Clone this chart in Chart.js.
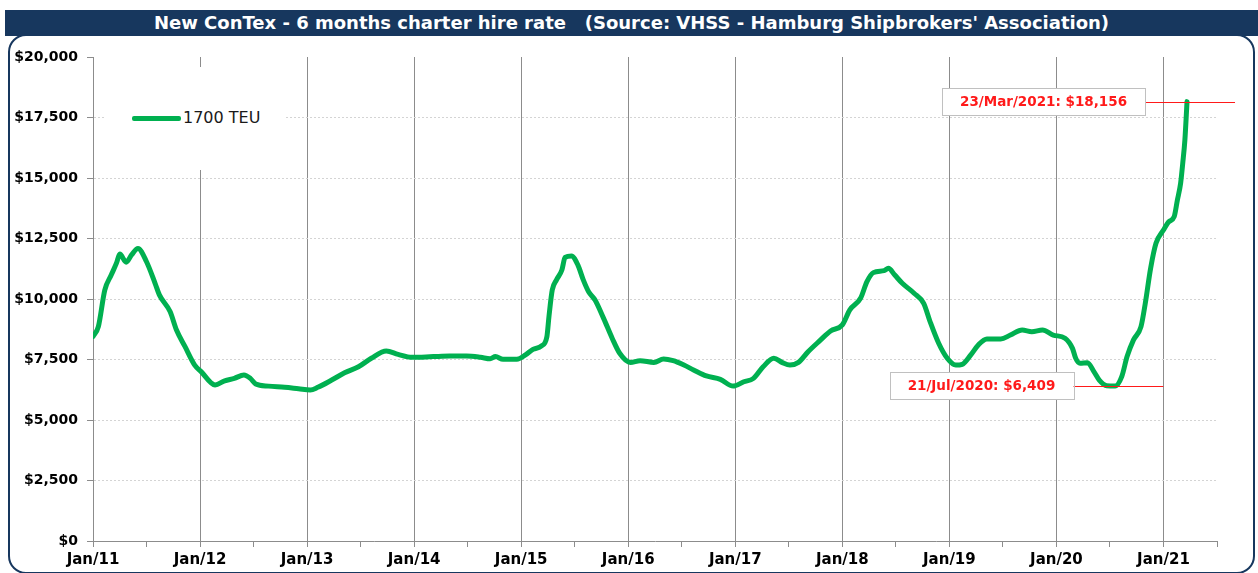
<!DOCTYPE html>
<html>
<head>
<meta charset="utf-8">
<script src="https://cdn.jsdelivr.net/npm/chart.js@4/dist/chart.umd.min.js"></script>
<style>
  html, body { margin: 0; padding: 0; background: #fff; }
  #page { position: relative; width: 1258px; height: 573px; overflow: hidden; background: #fff; }
  #frame {
    position: absolute; left: 8px; top: 34px; width: 1247px; height: 540px;
    border: 2px solid #17375e; border-radius: 18px; box-sizing: border-box;
  }
  #titlebar {
    position: absolute; left: 5px; top: 10px; width: 1253px; height: 26px;
    background: #17375e; color: #fff; text-align: center;
    font: bold 18px 'DejaVu Sans', sans-serif; line-height: 26px; white-space: pre;
  }
  #chart { position: absolute; left: 0; top: 0; }
  #legend { position: absolute; left: 104px; top: 67px; width: 181px; height: 103px; background: #fff; }
  #legend .swatch { position: absolute; left: 28px; top: 49px; width: 49px; height: 5px; background: #00b050; border-radius: 2px; }
  #legend .name { position: absolute; left: 79px; top: 41px; font: 16px 'DejaVu Sans', sans-serif; line-height: 20px; color: #1a1a1a; }
</style>
</head>
<body>
<div id="page">
  <div id="frame"></div>
  <canvas id="chart" width="1258" height="573"></canvas>
  <div id="titlebar">New ConTex - 6 months charter hire rate   (Source: VHSS - Hamburg Shipbrokers' Association)</div>
  <div id="legend"><span class="swatch"></span><span class="name">1700 TEU</span></div>
</div>
<script>
// ── data (dates as decimal years) ─────────────────────────
const SERIES_NAME = '1700 TEU';

const dates = [
  2011.00, 2011.05, 2011.11, 2011.17, 2011.22, 2011.25, 2011.31, 2011.36, 2011.42, 2011.50,
  2011.58, 2011.62, 2011.72, 2011.78, 2011.86, 2011.95, 2012.01, 2012.14, 2012.23, 2012.32,
  2012.41, 2012.47, 2012.52, 2012.64, 2012.79, 2012.92, 2013.03, 2013.10, 2013.23, 2013.35,
  2013.48, 2013.60, 2013.74, 2013.85, 2013.98, 2014.18, 2014.33, 2014.49, 2014.62, 2014.71,
  2014.76, 2014.83, 2014.96, 2015.04, 2015.11, 2015.19, 2015.24, 2015.26, 2015.29, 2015.33,
  2015.38, 2015.41, 2015.47, 2015.53, 2015.58, 2015.63, 2015.69, 2015.77, 2015.85, 2015.92,
  2016.02, 2016.11, 2016.24, 2016.33, 2016.42, 2016.52, 2016.61, 2016.73, 2016.86, 2016.98,
  2017.08, 2017.17, 2017.26, 2017.36, 2017.44, 2017.51, 2017.59, 2017.68, 2017.79, 2017.89,
  2018.00, 2018.07, 2018.17, 2018.23, 2018.29, 2018.39, 2018.43, 2018.49, 2018.56, 2018.67,
  2018.76, 2018.82, 2018.90, 2018.98, 2019.06, 2019.12, 2019.20, 2019.27, 2019.35, 2019.48,
  2019.57, 2019.68, 2019.77, 2019.87, 2019.97, 2020.08, 2020.15, 2020.18, 2020.22, 2020.29,
  2020.35, 2020.40, 2020.47, 2020.55, 2020.61, 2020.66, 2020.72, 2020.79, 2020.83, 2020.88,
  2020.93, 2021.00, 2021.05, 2021.10, 2021.13, 2021.16, 2021.18, 2021.20, 2021.22,
];

const rates = [
  8450, 8860, 10370, 10990, 11490, 11860, 11520, 11820, 12090, 11540,
  10650, 10170, 9480, 8720, 8030, 7270, 7000, 6450, 6620, 6720,
  6860, 6720, 6490, 6400, 6350, 6290, 6240, 6350, 6650, 6950,
  7200, 7550, 7850, 7710, 7590, 7620, 7640, 7640, 7590, 7530,
  7620, 7510, 7510, 7690, 7920, 8060, 8440, 9300, 10370, 10790,
  11200, 11720, 11780, 11400, 10790, 10300, 9960, 9200, 8380, 7760,
  7380, 7450, 7380, 7520, 7450, 7270, 7070, 6820, 6680, 6400,
  6580, 6720, 7200, 7550, 7370, 7270, 7380, 7820, 8280, 8680,
  8930, 9550, 10030, 10720, 11090, 11170, 11270, 10990, 10650, 10240,
  9820, 9060, 8170, 7550, 7270, 7300, 7690, 8100, 8350, 8350,
  8510, 8720, 8650, 8720, 8510, 8380, 7960, 7550, 7340, 7370,
  7000, 6650, 6420, 6409, 6790, 7620, 8310, 8860, 9820, 11270,
  12300, 12850, 13190, 13400, 14090, 14780, 15610, 16570, 18156,
];

const yTicks = [0, 2500, 5000, 7500, 10000, 12500, 15000, 17500, 20000];

// callouts
const noteDates  = [2021.22, 2020.55];
const noteValues = [18156, 6409];
const noteLabels = ['23/Mar/2021: $18,156', '21/Jul/2020: $6,409'];

const COLORS = {
  line:  '#00b050',
  grid:  '#8c8c8c',
  dots:  '#d4d4d4',
  red:   '#ff1a1a',
  box:   '#c0c0c0',
};

// ── callout plugin ───────────────────────────────────────
const calloutPlugin = {
  id: 'callouts',
  afterDatasetsDraw(chart) {
    const { ctx, scales: { x, y } } = chart;
    ctx.save();
    ctx.font = 'bold 13.5px "DejaVu Sans", sans-serif';
    noteLabels.forEach((txt, i) => {
      const px = x.getPixelForValue(noteDates[i]);
      const py = y.getPixelForValue(noteValues[i]);
      const w = ctx.measureText(txt).width + 36;
      const h = 27;
      const right = px - 42;
      const left = right - w;
      // leader line
      ctx.strokeStyle = COLORS.red;
      ctx.lineWidth = 1;
      ctx.beginPath();
      ctx.moveTo(right, Math.round(py) + 0.5);
      ctx.lineTo(px + 48, Math.round(py) + 0.5);
      ctx.stroke();
      // box
      ctx.fillStyle = '#fff';
      ctx.fillRect(left, py - h / 2, w, h);
      ctx.strokeStyle = COLORS.box;
      ctx.strokeRect(Math.round(left) + 0.5, Math.round(py - h / 2) + 0.5, Math.round(w), h);
      ctx.fillStyle = COLORS.red;
      ctx.textAlign = 'center';
      ctx.textBaseline = 'middle';
      ctx.fillText(txt, left + w / 2, py + 1);
    });
    ctx.restore();
  },
};

const points = dates.map((d, i) => ({ x: d, y: rates[i] }));

new Chart(document.getElementById('chart'), {
  type: 'line',
  data: {
    datasets: [{
      label: SERIES_NAME,
      data: points,
      borderColor: COLORS.line,
      backgroundColor: COLORS.line,
      borderWidth: 5,
      pointRadius: 0,
      cubicInterpolationMode: 'monotone',
      borderCapStyle: 'round',
      borderJoinStyle: 'round',
    }],
  },
  options: {
    responsive: false,
    animation: false,
    layout: { padding: { left: 0, top: 57, right: 41, bottom: 4 } },
    plugins: { legend: { display: false }, tooltip: { enabled: false } },
    scales: {
      x: {
        type: 'linear',
        min: 2011,
        max: 2021.5,
        afterFit: s => { s.height = 28; },
        ticks: {
          stepSize: 0.5,
          autoSkip: false,
          maxRotation: 0,
          padding: 4,
          color: '#000',
          font: { family: 'DejaVu Sans', weight: 'bold', size: 15 },
          callback: v => Number.isInteger(v) ? 'Jan/' + String(v).slice(2) : '',
        },
        grid: {
          tickLength: 6,
          color: c => (c.tick && Number.isInteger(c.tick.value)) ? COLORS.grid : 'rgba(0,0,0,0)',
          tickColor: COLORS.grid,
        },
        border: { color: COLORS.grid },
      },
      y: {
        min: 0,
        max: 20000,
        afterFit: s => { s.width = 93; },
        afterBuildTicks: s => { s.ticks = yTicks.map(v => ({ value: v })); },
        ticks: {
          padding: 9,
          color: '#000',
          font: { family: 'DejaVu Sans', weight: 'bold', size: 14 },
          callback: v => '$' + v.toLocaleString('en-US'),
        },
        grid: {
          tickLength: 6,
          color: c => (c.tick && (c.tick.value === 0 || c.tick.value === 20000)) ? 'rgba(0,0,0,0)' : COLORS.dots,
          tickColor: COLORS.grid,
        },
        border: { color: COLORS.grid, dash: [2, 2] },
      },
    },
  },
  plugins: [calloutPlugin],
});
</script>
</body>
</html>
